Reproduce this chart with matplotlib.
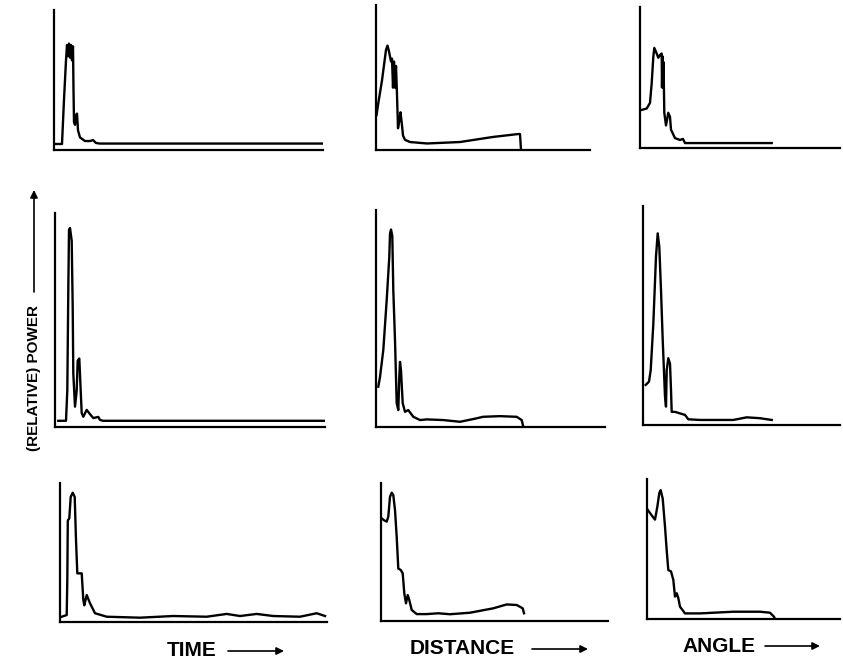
import matplotlib.pyplot as plt

# relative power curves, x = distance along axis, y = percent of axis height
time_top_x = [1, 8, 10, 12, 13, 14, 15, 16, 17, 18, 19, 19.5, 20, 21, 22, 23, 24, 26, 31, 36, 39, 42, 46, 269]
time_top_y = [4.3, 4.3, 36, 64, 75, 67, 76, 66, 75, 64, 74, 43, 20, 18, 25, 26, 14, 9, 6.4, 6.4, 7.1, 5, 4.6, 4.6]

dist_top_x = [0.5, 2, 6, 10, 11.5, 13, 15, 16, 17, 18, 19, 20, 21, 22, 23.5, 24.5, 26, 27, 29, 34, 51, 84, 117, 142, 144, 145]
dist_top_y = [24, 31, 48, 69, 72, 68, 61, 63, 43, 61, 43, 58, 38, 15, 21, 26, 17, 10, 7, 5.5, 4.5, 5.5, 9, 11, 11, 0]

angle_top_x = [1.7, 6.7, 10, 11.7, 13.3, 14.3, 16.7, 18.3, 20, 21.7, 22, 22.5, 23, 23.5, 24.3, 26, 28.3, 30, 31, 35, 40, 43, 45, 131.7]
angle_top_y = [27, 28, 32, 46, 64.5, 71, 67, 64, 66, 67, 43, 65, 43, 61, 25, 16, 25, 22, 13, 7, 5.7, 6.4, 3.5, 3.5]

time_mid_x = [3.3, 11, 12.3, 13.3, 14, 15, 16.7, 17.7, 18.3, 20, 21.7, 22.7, 24.3, 25.7, 26.7, 28.3, 31.7, 35, 38.3, 43.3, 45, 48, 270]
time_mid_y = [2.9, 2.9, 17, 64, 92, 93, 87, 56, 25, 9.5, 17, 31, 32, 17, 6.5, 4.8, 8, 6, 4.2, 4.7, 3.3, 2.9, 2.9]

dist_mid_x = [2.3, 4, 7.3, 10.7, 13.3, 14, 15, 16.3, 17.3, 19, 20.7, 22.3, 23.3, 24, 25, 26.7, 29, 32.3, 37.3,
              44, 50.7, 67.3, 84, 100.7, 107, 124, 140.7, 145.7, 147.3]
dist_mid_y = [18.6, 23, 35.5, 58.5, 78.5, 89, 91, 88, 63, 40, 11, 7.8, 23, 30, 26, 11, 7, 7.8, 4.7,
              3.2, 3.5, 3.2, 2.4, 4, 4.7, 5, 4.7, 3.2, 0.1]

angle_mid_x = [2.7, 6, 7.7, 10.3, 13, 14.7, 16.3, 18, 19.7, 22, 23, 23.7, 25.3, 27, 28, 28.7, 32, 37, 42,
               45.3, 57, 73.7, 90.3, 103.7, 117, 128.7]
angle_mid_y = [18.3, 19.8, 25, 46, 77, 87.5, 81.4, 61.6, 39, 13, 8.4, 25, 30.5, 28, 16, 6, 6, 5.3, 4.6,
               2.6, 2.3, 2.3, 2.3, 3.5, 3.1, 2.3]

time_low_x = [1.7, 6.7, 7.3, 7.8, 9.3, 10.7, 12.7, 14.7, 16, 17.3, 21.7, 23.3, 24.3, 26.7, 30, 35, 46.7,
              80, 113, 146.7, 166.7, 180, 196.7, 213.3, 240, 256.7, 265]
time_low_y = [3.8, 5, 30, 73, 74.6, 90, 93, 90, 59, 35, 35, 16, 12, 19.4, 13.5, 6.3, 3.8,
              3.1, 4.3, 3.8, 5.8, 4.3, 5.8, 4.3, 3.8, 6.3, 4.3]

dist_low_x = [0.7, 3, 5.7, 7.3, 9, 10.7, 12.3, 14, 15.7, 17.3, 19.7, 21.7, 23.3, 25, 26.7, 28.3, 30.7, 35.7,
              45.7, 57.3, 69, 89, 112.3, 125.7, 135.7, 141.7, 143]
dist_low_y = [74.4, 73, 72, 75.6, 90, 93, 91.3, 80.4, 61, 38, 37, 34.6, 20, 12.8, 18.8, 15.2, 8, 5,
              5, 5.6, 4.9, 6, 9.2, 12, 11.6, 9.2, 5.6]

angle_low_x = [0.7, 4.7, 8, 10.3, 12.3, 13.7, 15.7, 18, 19.7, 21.3, 24, 26.3, 28, 29.7, 31.3, 33, 38, 53,
               86.3, 113, 123, 127, 128]
angle_low_y = [78, 74, 71, 80, 90, 92, 86, 66, 49, 35, 34, 28, 16, 18.4, 15, 8.8, 4, 4,
               5.2, 5.2, 4.5, 1.6, 0]

curves = [
    (time_top_x, time_top_y), (dist_top_x, dist_top_y), (angle_top_x, angle_top_y),
    (time_mid_x, time_mid_y), (dist_mid_x, dist_mid_y), (angle_mid_x, angle_mid_y),
    (time_low_x, time_low_y), (dist_low_x, dist_low_y), (angle_low_x, angle_low_y),
]

# panel layout in pixels: left, baseline (from top), axis length, axis height
W, H = 843, 664
boxes = [
    (54, 150, 269, 140), (376, 150, 214, 145), (640, 148, 200, 141),
    (55, 427, 270, 214), (376, 427, 229, 217), (643, 425, 197, 219),
    (60, 622, 267, 139), (381, 621, 227, 138), (647, 619, 193, 140),
]

fig = plt.figure(figsize=(W / 100, H / 100), dpi=100)

for (xs, ys), (left, base, length, height) in zip(curves, boxes):
    ax = fig.add_axes([left / W, (H - base) / H, length / W, height / H])
    ax.plot(xs, ys, color='black', lw=1.7, solid_joinstyle='round')
    ax.set_xlim(0, length)
    ax.set_ylim(0, 100)
    for s in ['top', 'right']:
        ax.spines[s].set_visible(False)
    for s in ['left', 'bottom']:
        ax.spines[s].set_linewidth(1.6)
    ax.set_xticks([])
    ax.set_yticks([])
    ax.patch.set_alpha(0)

font = dict(family=['Liberation Sans', 'DejaVu Sans'], weight='bold', color='black')
arrow = dict(arrowstyle='-|>', lw=1.2, color='black', mutation_scale=11, shrinkA=0, shrinkB=0)

# x labels with arrows
for label, tx, ax0, ax1, ty in [('TIME', 167, 228, 284, 651),
                                ('DISTANCE', 410, 532, 588, 649),
                                ('ANGLE', 682, 765, 820, 646)]:
    fig.text(tx / W, 1 - ty / H, label, fontsize=15, ha='left', va='center', **font)
    fig.add_artist(plt.Annotation('', xy=(ax1 / W, 1 - ty / H), xytext=(ax0 / W, 1 - ty / H),
                                  xycoords='figure fraction', arrowprops=arrow))

# y label with arrow
fig.text(34 / W, 1 - 378 / H, '(RELATIVE) POWER', rotation=90, fontsize=11,
         ha='center', va='center', **font)
fig.add_artist(plt.Annotation('', xy=(34 / W, 1 - 190 / H), xytext=(34 / W, 1 - 292 / H),
                              xycoords='figure fraction', arrowprops=arrow))

fig.savefig('out.png', dpi=100)
